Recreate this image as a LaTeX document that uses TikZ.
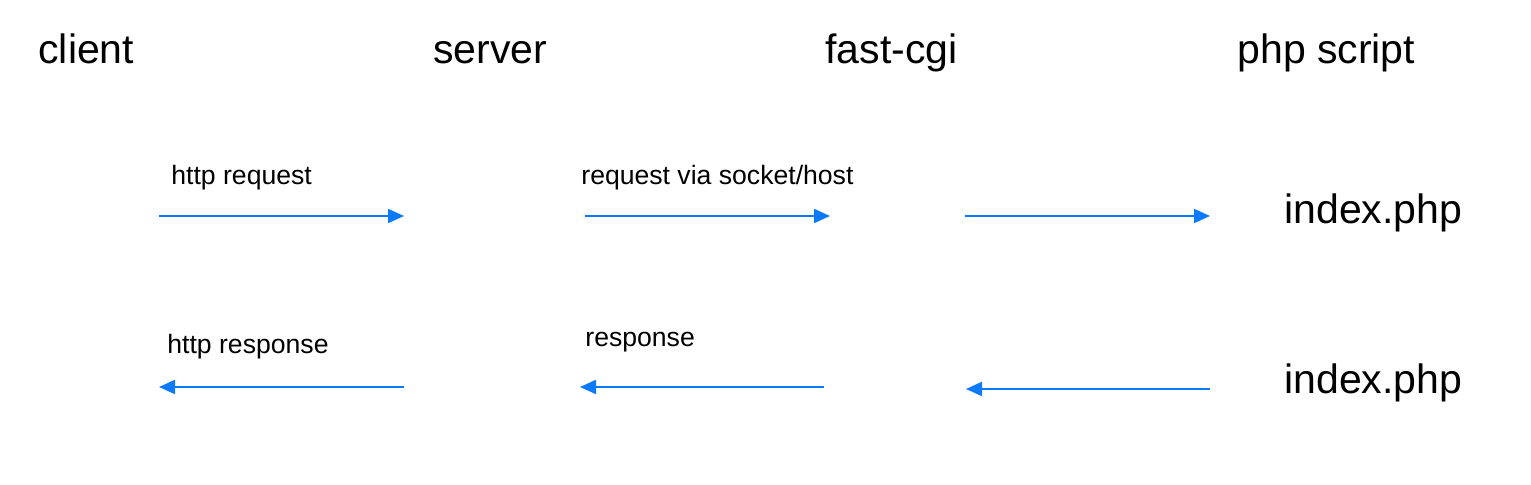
\documentclass[tikz,border=0pt]{standalone}
\usepackage{fontspec}
\setmainfont{Liberation Sans}
\usepackage{tikz}
\usetikzlibrary{arrows.meta,positioning,calc}
\definecolor{arrowblue}{RGB}{12,122,255}

\begin{document}
\begin{tikzpicture}[x=0.5pt,y=-0.5pt,
   	head/.style={anchor=base west,inner sep=0pt,font=\fontsize{20.5}{24}\selectfont},
   	lbl/.style={anchor=base west,inner sep=0pt,font=\fontsize{13.3}{16}\selectfont},
   	msg/.style={draw=arrowblue,line width=1pt,-{Triangle[length=8pt,width=7pt]},arrowblue}]
   	\useasboundingbox (0,0) rectangle (1531,485);
   	% column titles
   	\path   (38,64)   node (client) [head] {client}
   	        (433,64)  node (server) [head] {server}
   	        (825,64)  node (fcgi)   [head] {fast-cgi}
   	        (1237,64) node (php)    [head] {php script};
   	% script files
   	\path   (1284,224) node (idxa) [head] {index.php}
   	        (1284,394) node (idxb) [head] {index.php};
   	% arrow ends
   	\coordinate (ca) at (159,216);  \coordinate (sa) at (404,216);
   	\coordinate (sb) at (585,216);  \coordinate (fa) at (830,216);
   	\coordinate (fb) at (965,216);  \coordinate (pa) at (1210,216);
   	\coordinate (cr) at (159,387);  \coordinate (sr) at (404,387);
   	\coordinate (ss) at (580,387);  \coordinate (fr) at (824,387);
   	\coordinate (fs) at (966,389);  \coordinate (pr) at (1210,389);
   	\draw [msg] (ca) -- (sa);
   	\draw [msg] (sb) -- (fa);
   	\draw [msg] (fb) -- (pa);
   	\draw [msg] (sr) -- (cr);
   	\draw [msg] (fr) -- (ss);
   	\draw [msg] (pr) -- (fs);
   	% arrow labels
   	\node (req)   at (171,185) [lbl] {http request};
   	\node (sock)  at (581,185) [lbl] {request via socket/host};
   	\node (resp)  at (167,354) [lbl] {http response};
   	\node (fresp) at (585,347) [lbl] {response};
\end{tikzpicture}
\end{document}
